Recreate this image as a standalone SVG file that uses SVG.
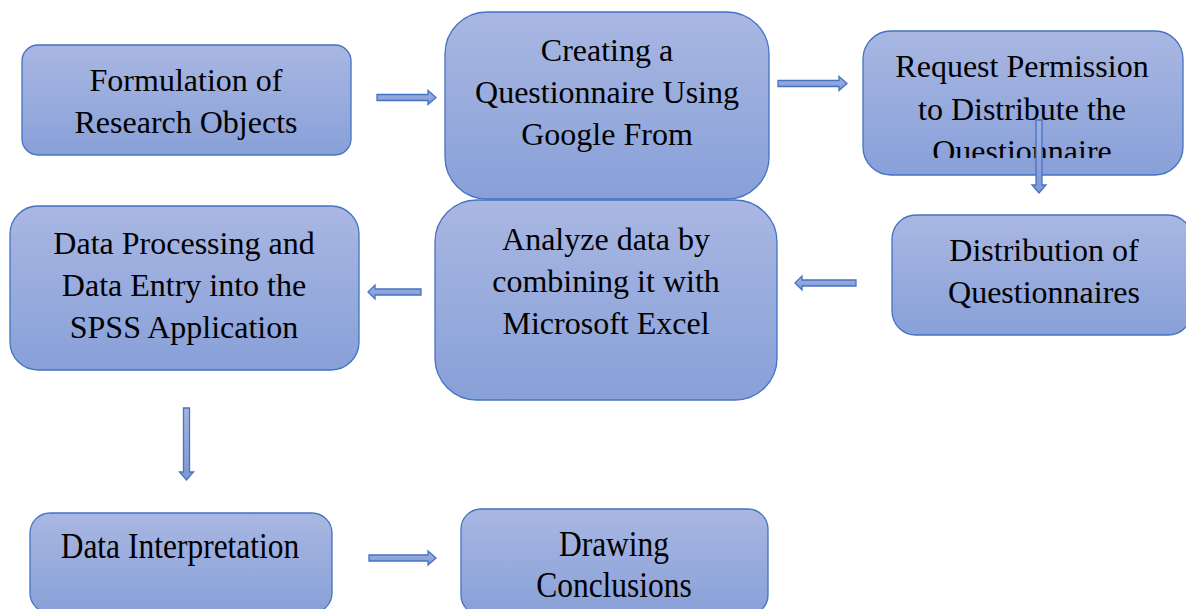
<svg xmlns="http://www.w3.org/2000/svg" width="1186" height="609" viewBox="0 0 1186 609">
<defs>
<linearGradient id="g" x1="0" y1="0" x2="0" y2="1">
<stop offset="0" stop-color="#A9B7E2"/>
<stop offset="1" stop-color="#88A0D8"/>
</linearGradient>
<linearGradient id="ga" x1="0" y1="0" x2="0" y2="1">
<stop offset="0" stop-color="#A3B3E0"/>
<stop offset="1" stop-color="#7F98D4"/>
</linearGradient>
<clipPath id="c3"><rect x="863" y="31" width="320" height="127"/></clipPath>
</defs>
<style>
.box{fill:url(#g);stroke:#4472C4;stroke-width:1.3}
.t{font-family:"Liberation Serif","Times New Roman",serif;font-size:32px;fill:#000;text-anchor:middle}
.c{font-size:35px}
.arr{fill:url(#ga);stroke:#4472C4;stroke-width:1.3;stroke-linejoin:miter}
</style>
<rect width="1186" height="609" fill="#fff"/>
<g id="n1">
<rect class="box" x="22" y="45" width="329" height="110" rx="16"/>
<text class="t" x="186" y="91">Formulation of</text>
<text class="t" x="186" y="133">Research Objects</text>
</g>
<g id="n2">
<rect class="box" x="445" y="12" width="324" height="187" rx="42"/>
<text class="t" x="607" y="61">Creating a</text>
<text class="t" x="607" y="103">Questionnaire Using</text>
<text class="t" x="607" y="145">Google From</text>
</g>
<g id="n3">
<rect class="box" x="863" y="31" width="320" height="144" rx="28"/>
<g clip-path="url(#c3)">
<text class="t" x="1022" y="77">Request Permission</text>
<text class="t" x="1022" y="120">to Distribute the</text>
<text class="t" x="1022" y="162">Questionnaire</text>
</g>
</g>
<g id="n4">
<rect class="box" x="892" y="215" width="300" height="120" rx="24"/>
<text class="t" x="1044" y="261">Distribution of</text>
<text class="t" x="1044" y="303">Questionnaires</text>
</g>
<g id="n5">
<rect class="box" x="435" y="200" width="342" height="200" rx="42"/>
<text class="t" x="606" y="250">Analyze data by</text>
<text class="t" x="606" y="292">combining it with</text>
<text class="t" x="606" y="334">Microsoft Excel</text>
</g>
<g id="n6">
<rect class="box" x="10" y="206" width="349" height="164" rx="28"/>
<text class="t" x="184" y="254">Data Processing and</text>
<text class="t" x="184" y="296">Data Entry into the</text>
<text class="t" x="184" y="338">SPSS Application</text>
</g>
<g id="n7">
<rect class="box" x="30" y="513" width="302" height="100" rx="20"/>
<text class="t c" x="180" y="558" transform="translate(180 0) scale(0.9 1) translate(-180 0)">Data Interpretation</text>
</g>
<g id="n8">
<rect class="box" x="461" y="509" width="307" height="106" rx="20"/>
<text class="t c" x="614" y="556" transform="translate(614 0) scale(0.9 1) translate(-614 0)">Drawing</text>
<text class="t c" x="614" y="597" transform="translate(614 0) scale(0.9 1) translate(-614 0)">Conclusions</text>
</g>
<g id="connectors">
<path class="arr" d="M377 94.5 H428 V90.5 L436 97.5 L428 104.5 V100.5 H377 Z"/>
<path class="arr" d="M778 80.5 H839 V76.5 L847 83.5 L839 90.5 V86.5 H778 Z"/>
<path class="arr" d="M1036 120 V185 H1032 L1039 193 L1046 185 H1042 V120 Z"/>
<path class="arr" d="M856 280 H802 V276 L795 283 L802 290 V286 H856 Z"/>
<path class="arr" d="M421 289 H375 V285 L368 292 L375 299 V295 H421 Z"/>
<path class="arr" d="M183.5 408 V472 H179.5 L186.5 480 L193.5 472 H189.5 V408 Z"/>
<path class="arr" d="M369 555 H428 V551 L436 558 L428 565 V561 H369 Z"/>
</g>
</svg>
